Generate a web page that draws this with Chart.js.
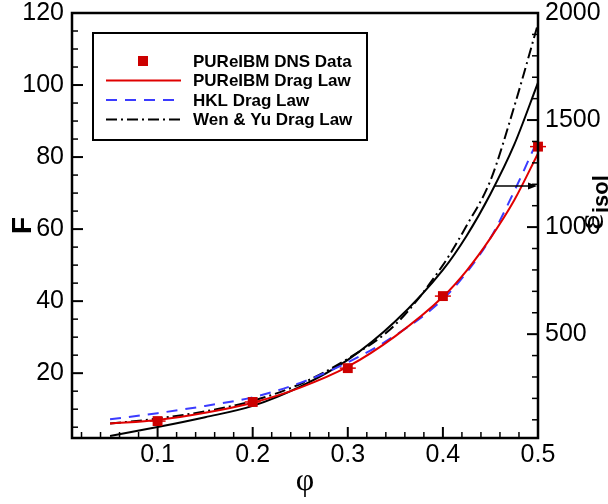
<!DOCTYPE html>
<html>
<head>
<meta charset="utf-8">
<script src="https://cdn.jsdelivr.net/npm/chart.js@4.4.0/dist/chart.umd.min.js"></script>
<style>
  html, body { margin: 0; padding: 0; background: #fff; }
  #wrap { width: 608px; height: 504px; }
</style>
</head>
<body>
<div id="wrap"><canvas id="c"></canvas></div>
<script>
// values
const phi = [0.05, 0.1, 0.15, 0.2, 0.25, 0.3, 0.35, 0.4, 0.425, 0.45, 0.475, 0.5];
const pureibmF = [6.0, 7.0, 9.0, 11.8, 16.0, 21.8, 30.3, 41.2, 48.5, 57.5, 68.0, 81.0];
const hklF = [7.2, 8.9, 10.9, 13.3, 17.3, 23.0, 30.5, 40.5, 48.0, 57.5, 70.5, 85.0];
const wenYuF = [6.0, 7.4, 9.4, 12.3, 17.0, 24.0, 33.5, 50.0, 61.0, 73.5, 94.0, 117.0];
const epsIsol = [24, 66, 112, 165, 255, 380, 560, 800, 960, 1155, 1385, 1675];

const dnsPhi = [0.1, 0.2, 0.3, 0.4, 0.5];
const dnsF = [6.7, 12.0, 21.4, 41.4, 82.9];

const xTicks = [0.1, 0.2, 0.3, 0.4, 0.5];
const fTicks = [20, 40, 60, 80, 100, 120];
const epsTicks = [500, 1000, 1500, 2000];

const legendLabels = ['PUReIBM DNS Data', 'PUReIBM Drag Law', 'HKL Drag Law', 'Wen & Yu Drag Law'];

// arrow pointing from the eps curve to its axis
const arrowPhi = 0.454;
const arrowEps = 1192;

const tickFont = { family: '"Liberation Sans", Arial, sans-serif', size: 25 };
const xy = (xs, ys) => xs.map((x, i) => ({ x, y: ys[i] }));

const decor = {
  id: 'decor',
  afterDraw(chart) {
    const { ctx, chartArea: a, scales: { x, y, y2 } } = chart;
    ctx.save();
    ctx.strokeStyle = '#000';
    ctx.fillStyle = '#000';
    const seg = (x1, y1, x2, y2p, w) => {
      ctx.lineWidth = w;
      ctx.beginPath(); ctx.moveTo(x1, y1); ctx.lineTo(x2, y2p); ctx.stroke();
    };

    // inner tick marks
    for (let i = 1; i < 25; i++) {
      const v = i * 0.02;
      const major = xTicks.some(t => Math.abs(t - v) < 1e-6);
      const px = x.getPixelForValue(v);
      seg(px, a.bottom, px, a.bottom - (major ? 11 : 6), major ? 2 : 1.5);
    }
    for (let v = 5; v < 120; v += 5) {
      const major = fTicks.includes(v);
      const py = y.getPixelForValue(v);
      seg(a.left, py, a.left + (major ? 11 : 6), py, major ? 2 : 1.5);
    }
    for (let v = 100; v < 2000; v += 100) {
      const major = epsTicks.includes(v);
      const py = y2.getPixelForValue(v);
      seg(a.right, py, a.right - (major ? 11 : 6), py, major ? 2 : 1.5);
    }

    // frame
    ctx.lineWidth = 2.5;
    ctx.strokeRect(a.left, a.top, a.right - a.left, a.bottom - a.top);

    // arrow
    const ax = x.getPixelForValue(arrowPhi);
    const ay = y2.getPixelForValue(arrowEps);
    seg(ax, ay, a.right - 8, ay, 1.5);
    ctx.beginPath();
    ctx.moveTo(a.right - 1, ay);
    ctx.lineTo(a.right - 10, ay - 3.5);
    ctx.lineTo(a.right - 10, ay + 3.5);
    ctx.closePath();
    ctx.fill();

    // right axis title
    ctx.save();
    ctx.translate(603, 230);
    ctx.rotate(-Math.PI / 2);
    ctx.textAlign = 'left';
    ctx.textBaseline = 'alphabetic';
    ctx.font = '38px "Liberation Serif", serif';
    ctx.fillText('ε', 0, 0);
    const ew = ctx.measureText('ε').width;
    ctx.font = 'bold 22px "Liberation Sans", Arial, sans-serif';
    ctx.fillText('isol', ew + 1, 5);
    ctx.restore();

    // legend
    const lx = 93, ly = 33, lw = 274, lh = 107;
    ctx.fillStyle = '#fff';
    ctx.fillRect(lx, ly, lw, lh);
    ctx.lineWidth = 2;
    ctx.strokeRect(lx, ly, lw, lh);
    const ds = chart.data.datasets;
    const rows = [ds[0], ds[2], ds[3], ds[4]];
    ctx.font = 'bold 17px "Liberation Sans", Arial, sans-serif';
    ctx.textBaseline = 'middle';
    ctx.textAlign = 'left';
    rows.forEach((d, i) => {
      const ry = 61 + i * 19.5;
      if (i === 0) {
        ctx.fillStyle = d.backgroundColor;
        ctx.fillRect(138, ry - 5, 10, 10);
      } else {
        ctx.strokeStyle = d.borderColor;
        ctx.lineWidth = d.borderWidth;
        ctx.setLineDash(d.borderDash || []);
        ctx.beginPath(); ctx.moveTo(106, ry); ctx.lineTo(181, ry); ctx.stroke();
        ctx.setLineDash([]);
      }
      ctx.fillStyle = '#000';
      ctx.fillText(legendLabels[i], 193, ry + 1);
    });
    ctx.restore();
  }
};

const curve = (data, color, dash, axis) => ({
  data, borderColor: color, borderWidth: 2, borderDash: dash,
  pointRadius: 0, cubicInterpolationMode: 'monotone', yAxisID: axis, fill: false
});

const noPad = s => { s.paddingTop = 0; s.paddingBottom = 0; s.paddingLeft = 0; s.paddingRight = 0; };

new Chart(document.getElementById('c'), {
  type: 'line',
  data: {
    datasets: [
      { label: legendLabels[0], data: xy(dnsPhi, dnsF), showLine: false, pointStyle: 'rect',
        pointRadius: 7, backgroundColor: '#cc0000', borderWidth: 0, clip: false, yAxisID: 'y' },
      { label: 'bars', data: xy(dnsPhi, dnsF), showLine: false, pointStyle: 'line',
        pointRadius: 8, borderColor: '#dd0000', borderWidth: 1.5, clip: false, yAxisID: 'y' },
      { label: legendLabels[1], ...curve(xy(phi, pureibmF), '#e00000', [], 'y') },
      { label: legendLabels[2], ...curve(xy(phi, hklF), '#3b3bff', [11, 8], 'y') },
      { label: legendLabels[3], ...curve(xy(phi, wenYuF), '#000', [11, 4, 2, 4], 'y') },
      { label: 'eps', ...curve(xy(phi, epsIsol), '#000', [], 'y2') }
    ]
  },
  options: {
    responsive: true,
    maintainAspectRatio: false,
    animation: false,
    layout: { padding: { top: 13, right: 0, bottom: 0, left: 0 } },
    plugins: { legend: { display: false }, tooltip: { enabled: false } },
    scales: {
      x: {
        type: 'linear', min: 0.01, max: 0.5,
        grid: { display: false, drawTicks: false }, border: { display: false },
        ticks: { font: tickFont, color: '#000', padding: 2, maxRotation: 0, callback: v => v.toFixed(1) },
        afterBuildTicks: s => { s.ticks = xTicks.map(v => ({ value: v })); },
        afterFit: s => { s.height = 66; noPad(s); },
        title: { display: true, text: 'φ', color: '#000',
          font: { family: '"Liberation Serif", serif', size: 32 }, padding: { top: 0, bottom: 3 } }
      },
      y: {
        type: 'linear', position: 'left', min: 2, max: 120,
        grid: { display: false, drawTicks: false }, border: { display: false },
        ticks: { font: tickFont, color: '#000', padding: 8, callback: v => String(v) },
        afterBuildTicks: s => { s.ticks = fTicks.map(v => ({ value: v })); },
        afterFit: s => { s.width = 72; noPad(s); },
        title: { display: true, text: 'F', color: '#000',
          font: { family: '"Liberation Sans", Arial, sans-serif', size: 28, weight: 'bold' }, padding: { top: 6, bottom: 0 } }
      },
      y2: {
        type: 'linear', position: 'right', min: 15, max: 2000,
        grid: { display: false, drawTicks: false }, border: { display: false },
        ticks: { font: tickFont, color: '#000', padding: 7, callback: v => String(v) },
        afterBuildTicks: s => { s.ticks = epsTicks.map(v => ({ value: v })); },
        afterFit: s => { s.width = 70; noPad(s); }
      }
    }
  },
  plugins: [decor]
});
</script>
</body>
</html>
